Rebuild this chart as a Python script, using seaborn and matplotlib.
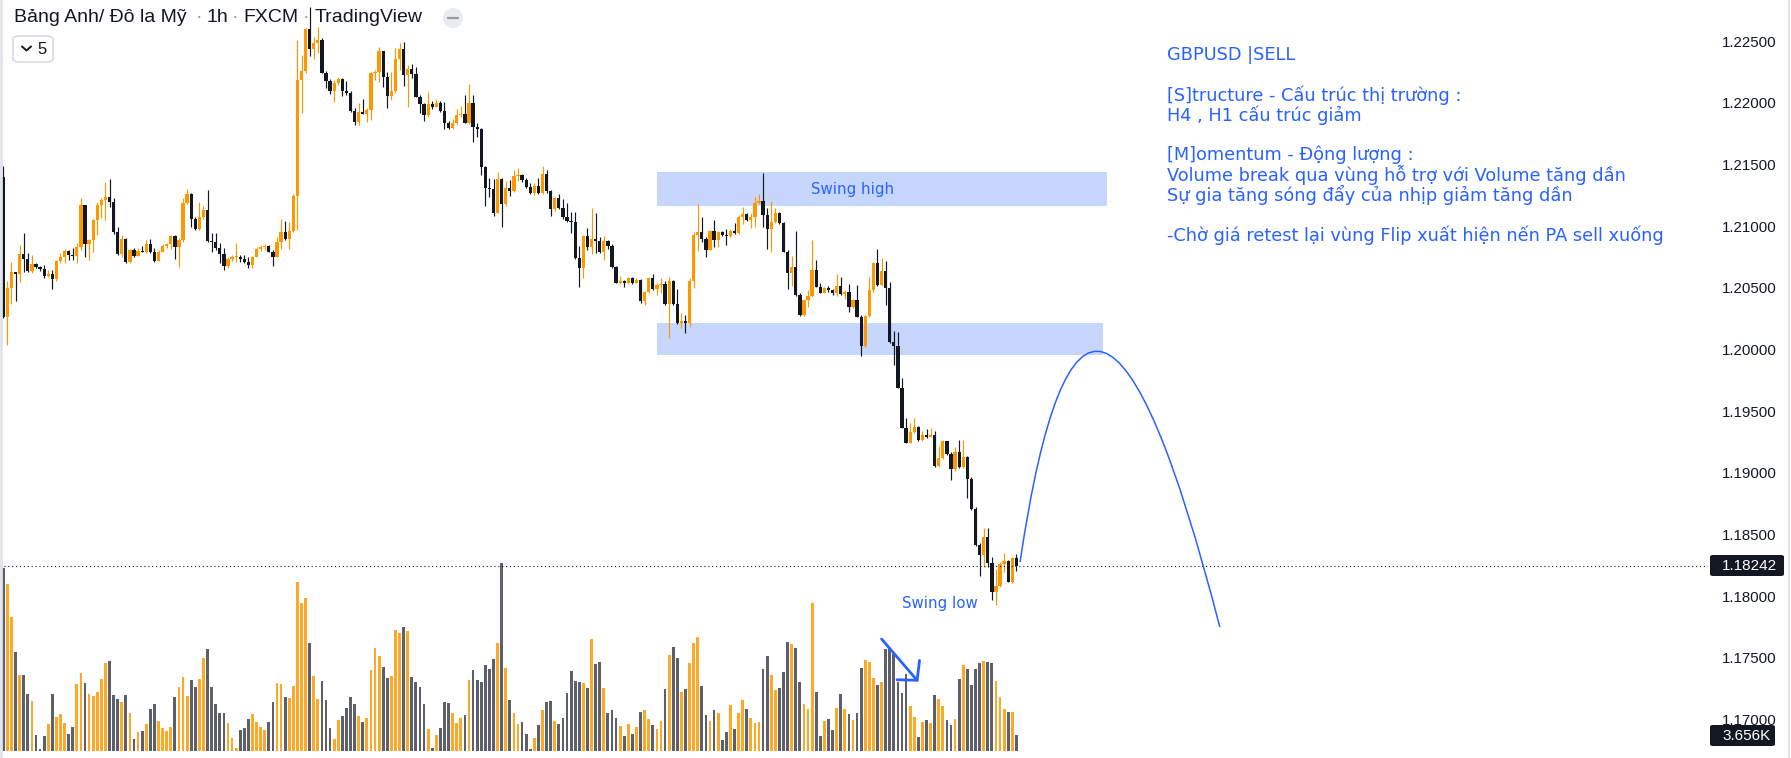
import numpy as np
import pandas as pd
import matplotlib
matplotlib.use("Agg")
import matplotlib.pyplot as plt
from matplotlib.patches import Rectangle, FancyBboxPatch, Circle, PathPatch
from matplotlib.path import Path
from matplotlib.lines import Line2D
import seaborn as sns

# ---------------- data (GBPUSD 1h) ----------------
first_open = 1.21396
closes = [
    1.20266, 1.20501, 1.20626, 1.20609, 1.20771, 1.20736, 1.20639, 1.20693, 1.20666, 1.20650,
    1.20596, 1.20612, 1.20569, 1.20717, 1.20747, 1.20801, 1.20763, 1.20755, 1.20828, 1.21171,
    1.20853, 1.20885, 1.21050, 1.21171, 1.21212, 1.21233, 1.21198, 1.20955, 1.20771, 1.20893,
    1.20712, 1.20807, 1.20761, 1.20801, 1.20788, 1.20855, 1.20788, 1.20720, 1.20793, 1.20839,
    1.20855, 1.20920, 1.20834, 1.20888, 1.21190, 1.21261, 1.21058, 1.20974, 1.21071, 1.21131,
    1.20882, 1.20874, 1.20826, 1.20771, 1.20677, 1.20734, 1.20747, 1.20752, 1.20736, 1.20707,
    1.20685, 1.20753, 1.20812, 1.20828, 1.20839, 1.20793, 1.20753, 1.20874, 1.20953, 1.20896,
    1.20963, 1.21247, 1.22185, 1.22258, 1.22595, 1.22433, 1.22482, 1.22509, 1.22244, 1.22179,
    1.22098, 1.22158, 1.22190, 1.22098, 1.22082, 1.21936, 1.21847, 1.21923, 1.21906, 1.21941,
    1.22239, 1.22252, 1.22422, 1.22206, 1.22058, 1.22095, 1.22352, 1.22433, 1.22225, 1.22274,
    1.22233, 1.22050, 1.21990, 1.21901, 1.21990, 1.21963, 1.22001, 1.21936, 1.21839, 1.21798,
    1.21839, 1.21901, 1.21910, 1.21839, 1.21996, 1.21806, 1.21785, 1.21477, 1.21306, 1.21298,
    1.21109, 1.21382, 1.21177, 1.21312, 1.21288, 1.21409, 1.21415, 1.21374, 1.21320, 1.21266,
    1.21328, 1.21266, 1.21423, 1.21288, 1.21136, 1.21231, 1.21150, 1.21071, 1.21044, 1.21036,
    1.20744, 1.20658, 1.20920, 1.20834, 1.20896, 1.20882, 1.20788, 1.20882, 1.20842, 1.20671,
    1.20542, 1.20555, 1.20536, 1.20582, 1.20536, 1.20563, 1.20393, 1.20469, 1.20577, 1.20488,
    1.20523, 1.20531, 1.20369, 1.20555, 1.20369, 1.20212, 1.20231, 1.20212, 1.20555, 1.20928,
    1.20955, 1.20893, 1.20806, 1.20960, 1.20887, 1.20955, 1.20928, 1.20920, 1.20960, 1.20942,
    1.21077, 1.21098, 1.21050, 1.21077, 1.21190, 1.21206, 1.21090, 1.20977, 1.21036, 1.21104,
    1.21023, 1.20793, 1.20623, 1.20671, 1.20442, 1.20280, 1.20401, 1.20436, 1.20644, 1.20509,
    1.20461, 1.20501, 1.20482, 1.20455, 1.20515, 1.20447, 1.20469, 1.20347, 1.20401, 1.20266,
    1.20031, 1.20274, 1.20482, 1.20704, 1.20523, 1.20639, 1.20496, 1.20058, 1.20031, 1.19690,
    1.19366, 1.19245, 1.19328, 1.19374, 1.19266, 1.19307, 1.19293, 1.19307, 1.19058, 1.19123,
    1.19258, 1.19153, 1.19028, 1.19166, 1.19044, 1.19131, 1.18950, 1.18704, 1.18415, 1.18334,
    1.18477, 1.18266, 1.18037, 1.18085, 1.18258, 1.18285, 1.18118, 1.18307, 1.18242]
highs = [
    1.21488, 1.20555, 1.20707, 1.20626, 1.20847, 1.20942, 1.20780, 1.20766, 1.20704, 1.20680,
    1.20685, 1.20644, 1.20644, 1.20726, 1.20780, 1.20812, 1.20807, 1.20820, 1.20861, 1.21225,
    1.21171, 1.20893, 1.21055, 1.21198, 1.21225, 1.21355, 1.21379, 1.21225, 1.20996, 1.20928,
    1.20901, 1.20812, 1.20820, 1.20820, 1.20839, 1.20888, 1.20896, 1.20820, 1.20807, 1.20855,
    1.20866, 1.20928, 1.20928, 1.20901, 1.21231, 1.21298, 1.21271, 1.21077, 1.21198, 1.21166,
    1.21293, 1.20942, 1.20942, 1.20861, 1.20820, 1.20753, 1.20766, 1.20861, 1.20766, 1.20766,
    1.20747, 1.20758, 1.20834, 1.20847, 1.20853, 1.20847, 1.20807, 1.20915, 1.21055, 1.21042,
    1.21036, 1.21258, 1.22509, 1.22387, 1.22603, 1.22776, 1.22536, 1.22612, 1.22522, 1.22260,
    1.22190, 1.22185, 1.22206, 1.22204, 1.22177, 1.22098, 1.21955, 1.21996, 1.22028, 1.21955,
    1.22252, 1.22266, 1.22455, 1.22422, 1.22252, 1.22252, 1.22441, 1.22482, 1.22490, 1.22306,
    1.22312, 1.22293, 1.22063, 1.22001, 1.22090, 1.22014, 1.22028, 1.22014, 1.22009, 1.21855,
    1.21866, 1.21947, 1.21974, 1.22063, 1.22150, 1.22063, 1.21833, 1.21793, 1.21490, 1.21388,
    1.21379, 1.21442, 1.21388, 1.21366, 1.21374, 1.21455, 1.21474, 1.21423, 1.21388, 1.21347,
    1.21347, 1.21388, 1.21490, 1.21455, 1.21293, 1.21239, 1.21261, 1.21220, 1.21185, 1.21117,
    1.21112, 1.20839, 1.20928, 1.20988, 1.21144, 1.21104, 1.20915, 1.20920, 1.20888, 1.20855,
    1.20677, 1.20596, 1.20563, 1.20590, 1.20590, 1.20577, 1.20569, 1.20477, 1.20585, 1.20612,
    1.20536, 1.20577, 1.20555, 1.20590, 1.20563, 1.20488, 1.20299, 1.20280, 1.20582, 1.20950,
    1.21177, 1.21077, 1.20915, 1.20969, 1.21050, 1.20960, 1.20963, 1.20977, 1.20977, 1.21023,
    1.21090, 1.21158, 1.21109, 1.21104, 1.21239, 1.21258, 1.21433, 1.21144, 1.21206, 1.21150,
    1.21112, 1.21036, 1.20806, 1.20758, 1.20960, 1.20455, 1.20407, 1.20482, 1.20887, 1.20725,
    1.20542, 1.20509, 1.20515, 1.20490, 1.20612, 1.20590, 1.20482, 1.20528, 1.20407, 1.20523,
    1.20280, 1.20280, 1.20590, 1.20712, 1.20812, 1.20744, 1.20720, 1.20550, 1.20150, 1.20139,
    1.19766, 1.19442, 1.19401, 1.19447, 1.19380, 1.19339, 1.19353, 1.19366, 1.19339, 1.19220,
    1.19266, 1.19258, 1.19172, 1.19212, 1.19266, 1.19266, 1.19136, 1.18963, 1.18720, 1.18428,
    1.18550, 1.18555, 1.18320, 1.18218, 1.18280, 1.18347, 1.18293, 1.18320, 1.18339]
lows = [
    1.20258, 1.20037, 1.20372, 1.20393, 1.20550, 1.20626, 1.20626, 1.20617, 1.20658, 1.20639,
    1.20577, 1.20590, 1.20488, 1.20555, 1.20699, 1.20704, 1.20726, 1.20726, 1.20699, 1.20807,
    1.20747, 1.20726, 1.20793, 1.20928, 1.21063, 1.21050, 1.21152, 1.20934, 1.20766, 1.20753,
    1.20699, 1.20704, 1.20753, 1.20761, 1.20788, 1.20780, 1.20780, 1.20712, 1.20720, 1.20788,
    1.20823, 1.20815, 1.20731, 1.20666, 1.20874, 1.21177, 1.20996, 1.20969, 1.20969, 1.21058,
    1.20874, 1.20793, 1.20807, 1.20699, 1.20644, 1.20658, 1.20720, 1.20712, 1.20709, 1.20699,
    1.20658, 1.20658, 1.20747, 1.20801, 1.20807, 1.20788, 1.20680, 1.20747, 1.20812, 1.20888,
    1.20815, 1.20955, 1.20969, 1.21914, 1.22239, 1.22382, 1.22352, 1.22401, 1.22239, 1.22117,
    1.22071, 1.22009, 1.22144, 1.22058, 1.22063, 1.21928, 1.21820, 1.21820, 1.21906, 1.21841,
    1.21860, 1.22185, 1.22171, 1.22131, 1.21955, 1.22023, 1.22077, 1.22266, 1.22139, 1.21969,
    1.22198, 1.22044, 1.21914, 1.21855, 1.21887, 1.21952, 1.21963, 1.21928, 1.21785, 1.21785,
    1.21790, 1.21828, 1.21882, 1.21833, 1.21828, 1.21685, 1.21725, 1.21415, 1.21166, 1.21239,
    1.21085, 1.21104, 1.20996, 1.21166, 1.21244, 1.21279, 1.21366, 1.21361, 1.21312, 1.21261,
    1.21252, 1.21261, 1.21261, 1.21266, 1.21085, 1.21125, 1.21136, 1.21058, 1.21036, 1.20942,
    1.20734, 1.20509, 1.20582, 1.20807, 1.20771, 1.20780, 1.20780, 1.20726, 1.20812, 1.20658,
    1.20536, 1.20531, 1.20509, 1.20531, 1.20531, 1.20536, 1.20380, 1.20361, 1.20455, 1.20482,
    1.20442, 1.20455, 1.20361, 1.20091, 1.20361, 1.20207, 1.20172, 1.20136, 1.20185, 1.20496,
    1.20801, 1.20874, 1.20752, 1.20806, 1.20833, 1.20833, 1.20920, 1.20847, 1.20915, 1.20936,
    1.20936, 1.21017, 1.21042, 1.20987, 1.20990, 1.21179, 1.20990, 1.20812, 1.20788, 1.21023,
    1.21017, 1.20788, 1.20488, 1.20515, 1.20436, 1.20274, 1.20274, 1.20347, 1.20423, 1.20504,
    1.20455, 1.20455, 1.20469, 1.20442, 1.20436, 1.20442, 1.20407, 1.20307, 1.20339, 1.20260,
    1.19950, 1.20023, 1.20260, 1.20469, 1.20517, 1.20515, 1.20360, 1.20050, 1.19874, 1.19685,
    1.19361, 1.19239, 1.19239, 1.19320, 1.19258, 1.19258, 1.19285, 1.19288, 1.19050, 1.19050,
    1.19109, 1.19144, 1.18942, 1.19018, 1.19042, 1.19042, 1.18793, 1.18699, 1.18410, 1.18164,
    1.18239, 1.18239, 1.17969, 1.17929, 1.18072, 1.18199, 1.18112, 1.18110, 1.18207]
volumes_k = [
    42.6, 38.9, 31.2, 23.0, 17.6, 17.6, 13.2, 11.6, 3.7, 0.4,
    3.4, 6.2, 13.2, 7.8, 8.5, 6.4, 3.9, 5.5, 15.5, 18.1,
    15.8, 13.2, 12.7, 13.7, 16.7, 20.4, 20.9, 13.0, 12.0, 11.3,
    13.0, 8.8, 2.7, 4.4, 4.6, 6.2, 9.7, 10.9, 6.9, 5.3,
    4.6, 5.5, 12.5, 14.8, 17.2, 12.7, 16.5, 14.8, 16.7, 21.6,
    23.7, 14.8, 10.9, 8.8, 8.8, 6.4, 3.0, 0.6, 4.8, 5.3,
    7.4, 8.5, 6.7, 5.5, 4.8, 6.7, 11.3, 15.8, 15.5, 12.5,
    12.3, 15.1, 39.3, 34.3, 35.6, 25.1, 17.4, 12.0, 16.2, 11.8,
    5.3, 2.7, 7.1, 8.1, 9.9, 12.5, 10.9, 8.1, 6.7, 7.6,
    18.8, 23.9, 22.1, 19.5, 16.9, 17.4, 28.1, 27.4, 28.8, 27.9,
    17.2, 16.0, 14.8, 10.9, 5.1, 0.6, 3.7, 5.3, 11.3, 11.1,
    8.8, 6.4, 7.6, 8.3, 16.5, 18.8, 16.5, 16.0, 20.0, 19.0,
    21.4, 25.1, 43.7, 19.3, 11.8, 8.8, 6.2, 6.7, 3.9, 0.4,
    3.0, 6.0, 9.5, 11.3, 11.6, 6.9, 6.2, 7.6, 13.4, 18.6,
    16.2, 16.0, 15.8, 14.6, 26.0, 20.2, 20.7, 14.7, 8.8, 9.5,
    7.6, 5.7, 3.4, 6.2, 3.9, 5.5, 9.0, 9.5, 7.4, 6.0,
    5.1, 6.9, 14.4, 22.3, 24.2, 21.5, 13.7, 14.4, 20.4, 25.1,
    26.5, 15.1, 8.3, 6.9, 9.5, 8.8, 2.5, 4.4, 10.7, 5.1,
    8.8, 11.8, 9.7, 7.6, 6.4, 6.7, 19.0, 22.1, 17.6, 14.1,
    14.6, 18.3, 25.3, 24.9, 23.9, 16.0, 10.9, 9.7, 34.4, 13.7,
    3.4, 6.9, 7.4, 4.8, 9.9, 13.2, 9.7, 8.5, 7.1, 8.8,
    19.3, 21.1, 20.7, 16.9, 15.3, 16.0, 23.7, 23.7, 22.5, 16.0,
    13.4, 17.9, 10.4, 7.8, 3.2, 6.7, 7.1, 6.4, 13.0, 12.0,
    10.4, 7.1, 6.0, 7.4, 16.7, 20.0, 19.0, 15.3, 19.0, 20.4,
    20.9, 20.7, 20.4, 16.2, 12.5, 9.7, 9.0, 9.0, 3.656]

price_ticks = [1.170, 1.175, 1.180, 1.185, 1.190, 1.195, 1.200, 1.205,
               1.210, 1.215, 1.220, 1.225]
last_price = 1.18242
last_volume_label = "3.656K"

# drawings (bar index / price)
swing_high_zone = (159.95, 270.2, 1.21166, 1.21436)
flip_zone = (159.95, 269.2, 1.19958, 1.20215)
arc_x = [248.9, 265.3, 297.8]
arc_y = [1.18277, 1.21942, 1.17750]
vol_arrow = ((215.0, 1.17653), (224.0, 1.17307))
swing_high_label = ("Swing high", 207.8, 1.21293)
swing_low_label = ("Swing low", 229.3, 1.17945)

title_parts = ["Bảng Anh/ Đô la Mỹ", "1h", "FXCM", "TradingView"]
note_lines = ["GBPUSD |SELL", "",
              "[S]tructure - Cấu trúc thị trường :",
              "H4 , H1 cấu trúc giảm", "",
              "[M]omentum - Động lượng :",
              "Volume break qua vùng hỗ trợ với Volume tăng dần",
              "Sự gia tăng sóng đẩy của nhịp giảm tăng dần", "",
              "-Chờ giá retest lại vùng Flip xuất hiện nến PA sell xuống"]

# ---------------- styling ----------------
UP = "#FF9800"
DOWN = "#131722"
VOL_UP = "#FFA726"
VOL_DOWN = "#5d606b"
BLUE = "#2962FF"
ZONE = "#c6d6fd"
TXT = "#131722"

sns.set_theme(style="white")
plt.rcParams["font.family"] = ["DejaVu Sans"]

W, H = 1791, 758
def fx(x):
    return x / W
def fy(y):
    return 1 - y / H

closes = np.array(closes)
highs = np.array(highs)
lows = np.array(lows)
# on this FX feed each hourly candle opens at the previous close
opens = np.concatenate([[first_open], closes[:-1]])
idx = np.arange(len(closes))
up = closes >= opens

fig = plt.figure(figsize=(W / 100, H / 100), dpi=100, facecolor="white")
AX_RIGHT = 1708
BAR_PX, X0_PX = 4.085, 3.3
xlim = (-X0_PX / BAR_PX, (AX_RIGHT - X0_PX) / BAR_PX)
rect = [0, 0, AX_RIGHT / W, 1]

axv = fig.add_axes(rect, zorder=0)
ax = fig.add_axes(rect, zorder=1)
ax.patch.set_visible(False)

# volume (overlay) with seaborn
vol_df = pd.DataFrame({"bar": idx, "volume": volumes_k,
                       "dir": np.where(up, "up", "down")})
sns.barplot(data=vol_df, x="bar", y="volume", hue="dir",
            palette={"up": VOL_UP, "down": VOL_DOWN}, dodge=False,
            width=0.68, saturation=1, errorbar=None, legend=False,
            linewidth=0, ax=axv)
axv.set_xlim(*xlim)
axv.set_ylim(-1.70, 174.9)
axv.set_axis_off()

# zones
for (x0, x1, y0, y1) in (swing_high_zone, flip_zone):
    ax.add_patch(Rectangle((x0, y0), x1 - x0, y1 - y0, facecolor=ZONE,
                           edgecolor="none", zorder=0.5))

# candles
cols = np.where(up, UP, DOWN)
wick_lo = np.minimum(lows, np.minimum(opens, closes))
wick_hi = np.maximum(highs, np.maximum(opens, closes))
ax.vlines(idx, wick_lo, wick_hi, colors=cols, linewidth=0.85, zorder=2)
body_lo = np.minimum(opens, closes)
body_h = np.maximum(np.abs(closes - opens), 0.00009)
ax.bar(idx, body_h, bottom=body_lo, width=0.8, color=cols, linewidth=0, zorder=3)

# last price dotted line
ax.axhline(last_price, color=TXT, lw=0.8, linestyle=(0, (1, 2.5)), zorder=4)

# projected arc
verts = list(zip(arc_x, arc_y))
ax.add_patch(PathPatch(Path(verts, [Path.MOVETO, Path.CURVE3, Path.CURVE3]),
                       fill=False, edgecolor=BLUE, lw=1.1, zorder=5))

# volume arrow
ax.annotate("", xy=vol_arrow[1], xytext=vol_arrow[0],
            arrowprops=dict(arrowstyle="->,head_length=0.81,head_width=0.89",
                            color=BLUE, lw=2, shrinkA=0, shrinkB=0), zorder=6)

for (t, x, y) in (swing_high_label, swing_low_label):
    ax.text(x, y, t, color=BLUE, fontsize=10.8, ha="center", va="center", zorder=6)

ax.set_xlim(*xlim)
ax.set_ylim(1.1668855, 1.2283317)
for s in ax.spines.values():
    s.set_visible(False)
ax.set_xticks([])
ax.yaxis.tick_right()
ax.set_yticks(price_ticks)
ax.set_yticklabels([f"{t:.5f}" for t in price_ticks])
ax.tick_params(axis="y", length=0, pad=10, labelsize=10.8, labelcolor=TXT,
               labelfontfamily="Liberation Sans")
ax.grid(False)

# note block
for k, line in enumerate(note_lines):
    if line:
        fig.text(fx(1166.7), fy(55 + 20 * k), line, color=BLUE, fontsize=12.8,
                 ha="left", va="center")

# title
title_x = [14, 207, 243, 315]
for t, x in zip(title_parts, title_x):
    fig.text(fx(x), fy(18), t, fontsize=14, family="Liberation Sans", color=TXT,
             ha="left", va="center")
for x in (199, 235, 306):
    fig.text(fx(x), fy(18), "·", fontsize=14, family="Liberation Sans",
             color="#9598a1", ha="center", va="center")

# interval button "⌄ 5"
fig.add_artist(FancyBboxPatch((fx(13), fy(62)), 40 / W, 26 / H,
                              boxstyle="round,pad=0,rounding_size=0.004",
                              transform=fig.transFigure, facecolor="white",
                              edgecolor="#d1d4dc", lw=1))
fig.add_artist(Line2D([fx(22), fx(26.5), fx(31)], [fy(46.5), fy(50.5), fy(46.5)],
                      transform=fig.transFigure, color=TXT, lw=1.4))
fig.text(fx(37), fy(49), "5", fontsize=12, family="Liberation Sans", color=TXT,
         ha="left", va="center")

# small grey toggle circle
fig.add_artist(Circle((453, H - 18), 10, transform=None, facecolor="#e9ebf0",
                      edgecolor="none"))
fig.add_artist(Line2D([448, 458], [H - 18, H - 18], transform=None,
                      color="#9598a1", lw=1.6))

# price-scale badges
for (x0, x1, y0, y1, label) in ((1710, 1784, 555, 576, f"{last_price:.5f}"),
                                (1710, 1775, 725, 746, last_volume_label)):
    fig.add_artist(FancyBboxPatch((fx(x0), fy(y1)), (x1 - x0) / W, (y1 - y0) / H,
                                  boxstyle="round,pad=0,rounding_size=0.002",
                                  transform=fig.transFigure, facecolor=TXT,
                                  edgecolor="none"))
    fig.text(fx(1722), fy((y0 + y1) / 2), label, color="white", fontsize=11,
             family="Liberation Sans", ha="left", va="center")

# frame edges
fig.add_artist(Line2D([fx(1), fx(1)], [0, 1], transform=fig.transFigure,
                      color="#e0e3eb", lw=2))
fig.add_artist(Line2D([fx(1789), fx(1789)], [0, 1], transform=fig.transFigure,
                      color="#e0e3eb", lw=1.5))

fig.savefig("out.png", dpi=100, facecolor="white")
